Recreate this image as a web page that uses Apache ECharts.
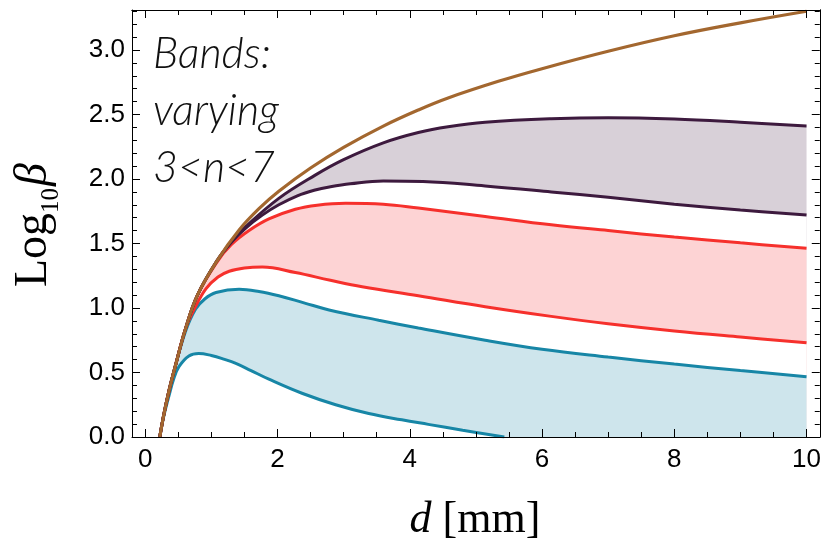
<!DOCTYPE html>
<html>
<head>
<meta charset="utf-8">
<script src="https://cdn.jsdelivr.net/npm/echarts@6/dist/echarts.min.js"></script>
<style>
html,body{margin:0;padding:0;background:#fff;}
#c{width:824px;height:546px;}
</style>
</head>
<body>
<div id="c"></div>
<script>
// ---- data ----
const xTicksMajor = [0, 2, 4, 6, 8, 10];
const xTicksMinor = [0.5, 1, 1.5, 2.5, 3, 3.5, 4.5, 5, 5.5, 6.5, 7, 7.5, 8.5, 9, 9.5];
const yTicksMajor = [0, 0.5, 1, 1.5, 2, 2.5, 3];
const yTicksMinor = [0.1,0.2,0.3,0.4,0.6,0.7,0.8,0.9,1.1,1.2,1.3,1.4,1.6,1.7,1.8,1.9,2.1,2.2,2.3,2.4,2.6,2.7,2.8,2.9,3.1,3.2,3.3];

const brownD = [0.22, 0.28, 0.36, 0.45, 0.61, 0.79, 1.09, 1.42, 1.72, 2.02, 2.5, 3.0, 3.6, 4.13, 4.58, 5.34, 6, 7, 8, 9, 10];
const brownV = [0, 0.17, 0.36, 0.54, 0.84, 1.10, 1.37, 1.605, 1.77, 1.905, 2.085, 2.245, 2.41, 2.535, 2.628, 2.757, 2.855, 2.99, 3.11, 3.21, 3.30];

const purpleUpD = [0.22, 0.28, 0.36, 0.45, 0.61, 0.79, 1.09, 1.3, 1.52, 2.02, 2.57, 3.0, 3.6, 4.13, 4.58, 5.14, 6.14, 7, 8, 9, 10];
const purpleUpV = [0, 0.17, 0.36, 0.54, 0.84, 1.10, 1.37, 1.51, 1.63, 1.85, 2.03, 2.15, 2.28, 2.36, 2.405, 2.44, 2.467, 2.475, 2.465, 2.44, 2.41];

const purpleLoD = [0.22, 0.28, 0.36, 0.45, 0.61, 0.79, 1.09, 1.3, 1.52, 1.77, 2.02, 2.3, 2.57, 2.8, 3.1, 3.6, 4.2, 5.14, 6.14, 7, 8, 9, 10];
const purpleLoV = [0, 0.17, 0.36, 0.54, 0.84, 1.10, 1.37, 1.51, 1.62, 1.72, 1.80, 1.87, 1.915, 1.94, 1.963, 1.985, 1.981, 1.946, 1.90, 1.858, 1.805, 1.76, 1.72];

const redUpD = [0.22, 0.28, 0.36, 0.45, 0.61, 0.79, 1.09, 1.3, 1.57, 1.87, 2.27, 2.6, 3.03, 3.6, 4.13, 5.14, 6.14, 7, 8, 9, 10];
const redUpV = [0, 0.17, 0.36, 0.54, 0.84, 1.10, 1.36, 1.49, 1.60, 1.69, 1.765, 1.797, 1.812, 1.805, 1.775, 1.71, 1.645, 1.60, 1.55, 1.505, 1.463];

const redLoD = [0.22, 0.28, 0.36, 0.45, 0.61, 0.75, 0.92, 1.1, 1.27, 1.5, 1.77, 2.27, 2.8, 3.28, 4.13, 5.14, 6.14, 7, 8, 9, 10];
const redLoV = [0, 0.17, 0.36, 0.54, 0.84, 1.0, 1.15, 1.24, 1.285, 1.31, 1.318, 1.275, 1.215, 1.165, 1.095, 1.01, 0.935, 0.878, 0.822, 0.775, 0.731];

const tealUpD = [0.22, 0.28, 0.36, 0.45, 0.61, 0.76, 0.9, 1.07, 1.42, 1.72, 2.02, 2.4, 2.78, 3.53, 4.13, 5.14, 6, 7, 8, 9, 10];
const tealUpV = [0, 0.17, 0.36, 0.54, 0.82, 0.99, 1.07, 1.12, 1.145, 1.128, 1.095, 1.04, 0.985, 0.905, 0.845, 0.75, 0.68, 0.62, 0.565, 0.515, 0.467];

const tealLoD = [0.22, 0.28, 0.36, 0.43, 0.51, 0.66, 0.81, 1.0, 1.2, 1.37, 1.6, 1.87, 2.37, 2.88, 3.38, 3.88, 4.28, 4.8, 5.43];
const tealLoV = [0, 0.16, 0.32, 0.45, 0.545, 0.628, 0.648, 0.632, 0.602, 0.571, 0.515, 0.448, 0.339, 0.25, 0.182, 0.133, 0.098, 0.053, 0];

const colBrown = '#a3672f', colPurple = '#3d1a3e', colRed = '#f6302c', colTeal = '#1786a6';
const fillPurple = '#d8d0d8', fillRed = '#fdd3d4', fillTeal = '#cee5ec';

function pairs(d, v) { return d.map((x, i) => [x, v[i]]); }

const chart = echarts.init(document.getElementById('c'), null, {renderer: 'canvas'});

function xAxisDef(pos, ticks, len, labels) {
  return {
    type: 'value', position: pos, min: -0.2, max: 10.2, z: 10,
    axisLine: {show: !!labels || pos === 'top', onZero: false, lineStyle: {color: '#000', width: 1}},
    axisTick: {show: true, inside: true, length: len, customValues: ticks, lineStyle: {color: '#000', width: 1}},
    axisLabel: labels ? {show: true, customValues: labels, color: '#000', fontFamily: 'Liberation Sans', fontSize: 26, margin: 10,
      formatter: v => String(v)} : {show: false},
    splitLine: {show: false}
  };
}
function yAxisDef(pos, ticks, len, labels) {
  return {
    type: 'value', position: pos, min: 0, max: 3.31, z: 10,
    axisLine: {show: !!labels || pos === 'right', onZero: false, lineStyle: {color: '#000', width: 1}},
    axisTick: {show: true, inside: true, length: len, customValues: ticks, lineStyle: {color: '#000', width: 1}},
    axisLabel: labels ? {show: true, customValues: labels, color: '#000', fontFamily: 'Liberation Sans', fontSize: 26, margin: 7,
      formatter: v => v.toFixed(1)} : {show: false},
    splitLine: {show: false}
  };
}

function areaSeries(d, v, color) {
  return {type: 'line', data: pairs(d, v), smooth: 0.4, showSymbol: false, silent: true,
    lineStyle: {width: 0}, areaStyle: {color: color, opacity: 1}, z: 2};
}
function lineSeries(d, v, color, w) {
  return {type: 'line', data: pairs(d, v), smooth: 0.4, showSymbol: false, silent: true,
    lineStyle: {width: w, color: color}, z: 3};
}

// y-axis title measured layout
const mctx = document.createElement('canvas').getContext('2d');
const fsBig = 46, fsSub = 25;
mctx.font = fsBig + 'px "Liberation Serif"'; const wLog = mctx.measureText('Log').width;
mctx.font = fsSub + 'px "Liberation Serif"'; const w10 = mctx.measureText('10').width;
mctx.font = 'italic ' + fsBig + 'px "Liberation Serif"'; const wB = mctx.measureText('β').width;
const wTot = wLog + w10 + 2 + wB;
const x0 = -wTot / 2;

chart.setOption({
  animation: false,
  backgroundColor: '#fff',
  grid: {left: 132, top: 10, right: 2, bottom: 109, show: false},
  xAxis: [
    xAxisDef('bottom', xTicksMajor, 8, xTicksMajor),
    xAxisDef('bottom', xTicksMinor, 5, null),
    xAxisDef('top', xTicksMajor, 8, null),
    xAxisDef('top', xTicksMinor, 5, null)
  ],
  yAxis: [
    yAxisDef('left', yTicksMajor, 8, yTicksMajor),
    yAxisDef('left', yTicksMinor, 5, null),
    yAxisDef('right', yTicksMajor, 8, null),
    yAxisDef('right', yTicksMinor, 5, null)
  ],
  series: [
    areaSeries(purpleUpD, purpleUpV, fillPurple),
    areaSeries(purpleLoD, purpleLoV, '#ffffff'),
    areaSeries(redUpD, redUpV, fillRed),
    areaSeries(redLoD, redLoV, '#ffffff'),
    areaSeries(tealUpD, tealUpV, fillTeal),
    areaSeries(tealLoD, tealLoV, '#ffffff'),
    lineSeries(tealLoD, tealLoV, colTeal, 3),
    lineSeries(tealUpD, tealUpV, colTeal, 3),
    lineSeries(redLoD, redLoV, colRed, 3),
    lineSeries(redUpD, redUpV, colRed, 3),
    lineSeries(purpleLoD, purpleLoV, colPurple, 3),
    lineSeries(purpleUpD, purpleUpV, colPurple, 3),
    lineSeries(brownD, brownV, colBrown, 3.2)
  ],
  graphic: [
    {type: 'text', x: 153, y: 26, z: 20, silent: true,
      style: {text: 'Bands:\nvarying\n3<n<7', fill: '#111', font: 'italic 300 43px Lato', lineHeight: 57,
        align: 'left', verticalAlign: 'top'}},
    {type: 'text', x: 475, y: 520, z: 20, silent: true,
      style: {text: '{i|d}{r| [mm]}', align: 'center', verticalAlign: 'middle', fill: '#000',
        rich: {i: {fontFamily: 'Liberation Serif', fontStyle: 'italic', fontSize: 44, fill: '#000', verticalAlign: 'bottom'},
               r: {fontFamily: 'Liberation Serif', fontSize: 44, fill: '#000', verticalAlign: 'bottom'}}}},
    {type: 'group', x: 34, y: 225, rotation: Math.PI / 2, z: 20, silent: true,
      children: [
        {type: 'text', x: x0, y: 0, style: {text: 'Log', font: fsBig + 'px "Liberation Serif"', fill: '#000', align: 'left', verticalAlign: 'middle'}},
        {type: 'text', x: x0 + wLog, y: 17, style: {text: '10', font: fsSub + 'px "Liberation Serif"', fill: '#000', align: 'left', verticalAlign: 'middle'}},
        {type: 'text', x: x0 + wLog + w10 + 2, y: 0, style: {text: 'β', font: 'italic ' + fsBig + 'px "Liberation Serif"', fill: '#000', align: 'left', verticalAlign: 'middle'}}
      ]}
  ]
});
</script>
</body>
</html>
